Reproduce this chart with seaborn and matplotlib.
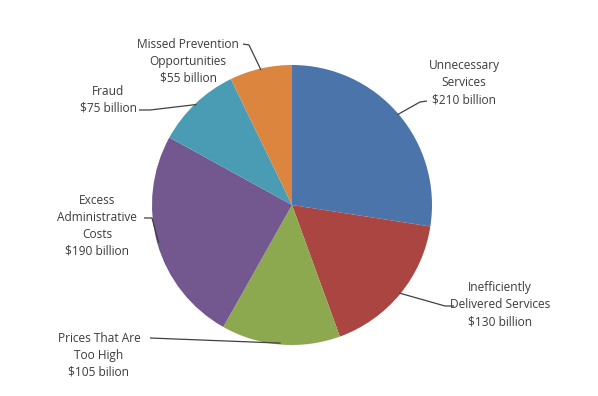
import numpy as np
import matplotlib
matplotlib.use("Agg")
import matplotlib.pyplot as plt
import seaborn as sns

# slices, clockwise from 12 o'clock
labels = ["Unnecessary\nServices\n$210 billion",
          "Inefficiently\nDelivered Services\n$130 billion",
          "Prices That Are\nToo High\n$105 bilion",
          "Excess\nAdministrative\nCosts\n$190 billion",
          "Fraud\n$75 billion",
          "Missed Prevention\nOpportunities\n$55 billion"]
values = [210, 130, 105, 190, 75, 55]
colors = ["#4A74AA", "#AA4542", "#8DA94F", "#73578F", "#4A9CB5", "#DC853F"]

sns.set_theme(style="white")
plt.rcParams['font.family'] = ['Open Sans', 'DejaVu Sans']

fig = plt.figure(figsize=(5.98, 3.96), dpi=100)
W, H = 598, 396
cx, cy, r = 292, 205, 140
ax = fig.add_axes([(cx - r) / W, (H - cy - r) / H, 2 * r / W, 2 * r / H])

wedges, _ = ax.pie(values, colors=colors, startangle=90, counterclock=False,
                   radius=1, wedgeprops=dict(linewidth=0))
ax.set_xlim(-1, 1)
ax.set_ylim(-1, 1)
ax.set_aspect("equal")
ax.axis("off")


def px(x, y):
    return (x - cx) / r, (cy - y) / r


# label centre (pixels), leader start, leader elbow
label_pos = [
    ((464, 83), (427, 101), (420, 102)),
    ((500, 305), (454, 306), (445, 306)),
    ((99, 355), (150, 338), (150, 338)),
    ((97, 226), (144, 218), (152, 218)),
    ((108, 100), (139, 110), (150, 110)),
    ((188, 61), (243, 44), (249, 45)),
]

for w, lab, (c, s, e) in zip(wedges, labels, label_pos):
    mid = np.deg2rad((w.theta1 + w.theta2) / 2)
    ex, ey = np.cos(mid) * 0.99, np.sin(mid) * 0.99
    tx, ty = px(*c)
    ax.text(tx, ty, lab, ha="center", va="center", fontsize=8.6,
            color="#3c3c3c", linespacing=1.4, clip_on=False)
    sx, sy = px(*s)
    kx, ky = px(*e)
    ax.plot([sx, kx, ex], [sy, ky, ey], color="#404040", lw=0.9,
            clip_on=False, solid_capstyle="butt")

fig.savefig("out.png", dpi=100, facecolor="white")
